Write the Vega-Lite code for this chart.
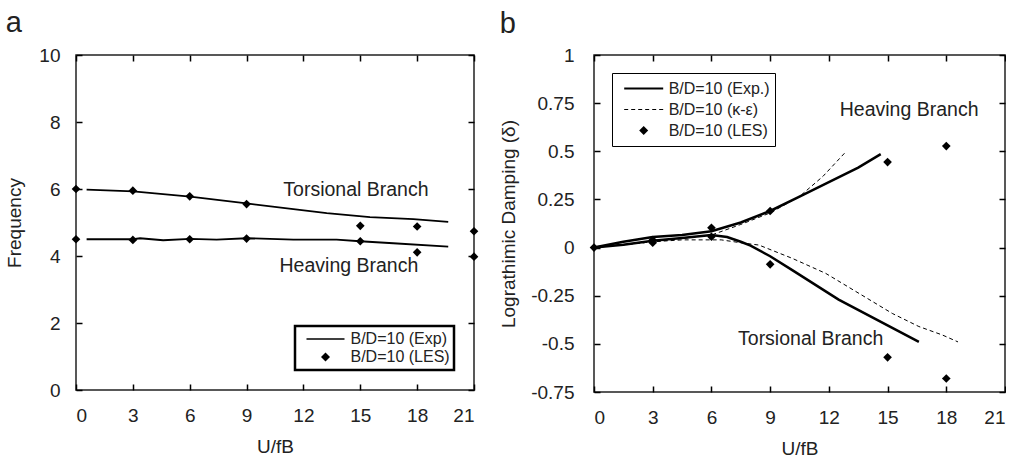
{
  "$schema": "https://vega.github.io/schema/vega-lite/v6.json",
  "padding": {"left": 5, "top": 8, "right": 0, "bottom": 0},
  "background": "white",
  "config": {
    "font": "Liberation Sans",
    "view": {"stroke": "#222", "strokeWidth": 1.5},
    "axis": {
      "domain": false, "ticks": false, "gridColor": "black", "gridWidth": 1.5, "gridOpacity": 1,
      "labelFont": "Liberation Sans", "labelFontSize": 19, "labelColor": "#222",
      "titleFont": "Liberation Sans", "titleFontSize": 19, "titleFontWeight": "normal", "titleColor": "#222"
    },
    "legend": {"padding": 5},
    "title": {"font": "Liberation Sans", "fontWeight": "normal", "color": "#222"},
    "text": {"font": "Liberation Sans"}
  },
  "datasets": {
    "lineA": [
      {"x": 0.56, "y": 5.98, "branch": "T", "series": "B/D=10 (Exp)"},
      {"x": 3.02, "y": 5.93, "branch": "T", "series": "B/D=10 (Exp)"},
      {"x": 6.02, "y": 5.77, "branch": "T", "series": "B/D=10 (Exp)"},
      {"x": 9.0, "y": 5.57, "branch": "T", "series": "B/D=10 (Exp)"},
      {"x": 11.47, "y": 5.4, "branch": "T", "series": "B/D=10 (Exp)"},
      {"x": 13.23, "y": 5.28, "branch": "T", "series": "B/D=10 (Exp)"},
      {"x": 15.51, "y": 5.16, "branch": "T", "series": "B/D=10 (Exp)"},
      {"x": 17.8, "y": 5.1, "branch": "T", "series": "B/D=10 (Exp)"},
      {"x": 19.64, "y": 5.02, "branch": "T", "series": "B/D=10 (Exp)"},
      {"x": 0.56, "y": 4.5, "branch": "H", "series": "B/D=10 (Exp)"},
      {"x": 3.02, "y": 4.5, "branch": "H", "series": "B/D=10 (Exp)"},
      {"x": 3.38, "y": 4.53, "branch": "H", "series": "B/D=10 (Exp)"},
      {"x": 4.6, "y": 4.47, "branch": "H", "series": "B/D=10 (Exp)"},
      {"x": 6.02, "y": 4.51, "branch": "H", "series": "B/D=10 (Exp)"},
      {"x": 7.42, "y": 4.49, "branch": "H", "series": "B/D=10 (Exp)"},
      {"x": 9.0, "y": 4.53, "branch": "H", "series": "B/D=10 (Exp)"},
      {"x": 11.47, "y": 4.49, "branch": "H", "series": "B/D=10 (Exp)"},
      {"x": 13.75, "y": 4.49, "branch": "H", "series": "B/D=10 (Exp)"},
      {"x": 14.98, "y": 4.44, "branch": "H", "series": "B/D=10 (Exp)"},
      {"x": 16.74, "y": 4.38, "branch": "H", "series": "B/D=10 (Exp)"},
      {"x": 19.64, "y": 4.28, "branch": "H", "series": "B/D=10 (Exp)"}
    ],
    "ptsA": [
      {"x": 0, "y": 6.0, "series": "B/D=10 (LES)"},
      {"x": 3, "y": 5.95, "series": "B/D=10 (LES)"},
      {"x": 6, "y": 5.78, "series": "B/D=10 (LES)"},
      {"x": 9, "y": 5.55, "series": "B/D=10 (LES)"},
      {"x": 15, "y": 4.9, "series": "B/D=10 (LES)"},
      {"x": 18, "y": 4.88, "series": "B/D=10 (LES)"},
      {"x": 21, "y": 4.74, "series": "B/D=10 (LES)"},
      {"x": 0, "y": 4.5, "series": "B/D=10 (LES)"},
      {"x": 3, "y": 4.48, "series": "B/D=10 (LES)"},
      {"x": 6, "y": 4.5, "series": "B/D=10 (LES)"},
      {"x": 9, "y": 4.52, "series": "B/D=10 (LES)"},
      {"x": 15, "y": 4.44, "series": "B/D=10 (LES)"},
      {"x": 18, "y": 4.11, "series": "B/D=10 (LES)"},
      {"x": 21, "y": 3.98, "series": "B/D=10 (LES)"}
    ],
    "textA": [
      {"x": 14.77, "y": 5.97, "label": "Torsional Branch"},
      {"x": 14.4, "y": 3.71, "label": "Heaving Branch"}
    ],
    "expB": [
      {"x": 0, "y": 0, "branch": "H", "series": "B/D=10 (Exp.)"},
      {"x": 1.5, "y": 0.03, "branch": "H", "series": "B/D=10 (Exp.)"},
      {"x": 3, "y": 0.055, "branch": "H", "series": "B/D=10 (Exp.)"},
      {"x": 4.5, "y": 0.065, "branch": "H", "series": "B/D=10 (Exp.)"},
      {"x": 6, "y": 0.085, "branch": "H", "series": "B/D=10 (Exp.)"},
      {"x": 7.5, "y": 0.13, "branch": "H", "series": "B/D=10 (Exp.)"},
      {"x": 9, "y": 0.19, "branch": "H", "series": "B/D=10 (Exp.)"},
      {"x": 10.5, "y": 0.265, "branch": "H", "series": "B/D=10 (Exp.)"},
      {"x": 12, "y": 0.34, "branch": "H", "series": "B/D=10 (Exp.)"},
      {"x": 13.5, "y": 0.415, "branch": "H", "series": "B/D=10 (Exp.)"},
      {"x": 14.65, "y": 0.485, "branch": "H", "series": "B/D=10 (Exp.)"},
      {"x": 0, "y": 0, "branch": "T", "series": "B/D=10 (Exp.)"},
      {"x": 1.5, "y": 0.015, "branch": "T", "series": "B/D=10 (Exp.)"},
      {"x": 3, "y": 0.035, "branch": "T", "series": "B/D=10 (Exp.)"},
      {"x": 4.5, "y": 0.05, "branch": "T", "series": "B/D=10 (Exp.)"},
      {"x": 6, "y": 0.065, "branch": "T", "series": "B/D=10 (Exp.)"},
      {"x": 6.8, "y": 0.055, "branch": "T", "series": "B/D=10 (Exp.)"},
      {"x": 7.5, "y": 0.03, "branch": "T", "series": "B/D=10 (Exp.)"},
      {"x": 8, "y": 0.01, "branch": "T", "series": "B/D=10 (Exp.)"},
      {"x": 9, "y": -0.045, "branch": "T", "series": "B/D=10 (Exp.)"},
      {"x": 10.13, "y": -0.117, "branch": "T", "series": "B/D=10 (Exp.)"},
      {"x": 12.5, "y": -0.27, "branch": "T", "series": "B/D=10 (Exp.)"},
      {"x": 16.6, "y": -0.49, "branch": "T", "series": "B/D=10 (Exp.)"}
    ],
    "keB": [
      {"x": 0, "y": 0, "branch": "H", "series": "B/D=10 (κ-ε)"},
      {"x": 3, "y": 0.03, "branch": "H", "series": "B/D=10 (κ-ε)"},
      {"x": 6, "y": 0.065, "branch": "H", "series": "B/D=10 (κ-ε)"},
      {"x": 7.5, "y": 0.12, "branch": "H", "series": "B/D=10 (κ-ε)"},
      {"x": 9, "y": 0.18, "branch": "H", "series": "B/D=10 (κ-ε)"},
      {"x": 10.5, "y": 0.265, "branch": "H", "series": "B/D=10 (κ-ε)"},
      {"x": 11.7, "y": 0.37, "branch": "H", "series": "B/D=10 (κ-ε)"},
      {"x": 12.8, "y": 0.49, "branch": "H", "series": "B/D=10 (κ-ε)"},
      {"x": 0, "y": 0, "branch": "T", "series": "B/D=10 (κ-ε)"},
      {"x": 3, "y": 0.03, "branch": "T", "series": "B/D=10 (κ-ε)"},
      {"x": 4.5, "y": 0.04, "branch": "T", "series": "B/D=10 (κ-ε)"},
      {"x": 6.5, "y": 0.04, "branch": "T", "series": "B/D=10 (κ-ε)"},
      {"x": 7.5, "y": 0.025, "branch": "T", "series": "B/D=10 (κ-ε)"},
      {"x": 8.43, "y": 0.013, "branch": "T", "series": "B/D=10 (κ-ε)"},
      {"x": 10.13, "y": -0.056, "branch": "T", "series": "B/D=10 (κ-ε)"},
      {"x": 11.84, "y": -0.134, "branch": "T", "series": "B/D=10 (κ-ε)"},
      {"x": 13.54, "y": -0.238, "branch": "T", "series": "B/D=10 (κ-ε)"},
      {"x": 15.24, "y": -0.342, "branch": "T", "series": "B/D=10 (κ-ε)"},
      {"x": 16.6, "y": -0.41, "branch": "T", "series": "B/D=10 (κ-ε)"},
      {"x": 17.8, "y": -0.454, "branch": "T", "series": "B/D=10 (κ-ε)"},
      {"x": 18.6, "y": -0.49, "branch": "T", "series": "B/D=10 (κ-ε)"}
    ],
    "ptsB": [
      {"x": 0, "y": 0, "series": "B/D=10 (LES)"},
      {"x": 3, "y": 0.039, "series": "B/D=10 (LES)"},
      {"x": 6, "y": 0.103, "series": "B/D=10 (LES)"},
      {"x": 9, "y": 0.19, "series": "B/D=10 (LES)"},
      {"x": 15, "y": 0.444, "series": "B/D=10 (LES)"},
      {"x": 18, "y": 0.527, "series": "B/D=10 (LES)"},
      {"x": 3, "y": 0.025, "series": "B/D=10 (LES)"},
      {"x": 6, "y": 0.056, "series": "B/D=10 (LES)"},
      {"x": 9, "y": -0.087, "series": "B/D=10 (LES)"},
      {"x": 15, "y": -0.57, "series": "B/D=10 (LES)"},
      {"x": 18, "y": -0.68, "series": "B/D=10 (LES)"}
    ],
    "textB": [
      {"x": 16.1, "y": 0.714, "label": "Heaving Branch"},
      {"x": 11.07, "y": -0.475, "label": "Torsional Branch"}
    ]
  },
  "spacing": 18,
  "resolve": {"scale": {"color": "independent", "x": "independent", "y": "independent"}, "legend": {"color": "independent"}},
  "hconcat": [
    {
      "width": 398,
      "height": 335,
      "title": {"text": "a", "anchor": "start", "frame": "bounds", "fontSize": 29, "baseline": "alphabetic", "offset": -15},
      "resolve": {"axis": {"x": "independent", "y": "independent"}},
      "layer": [
        {
          "data": {"name": "lineA"},
          "mark": {"type": "line", "strokeWidth": 1.8},
          "encoding": {
            "x": {"field": "x", "type": "quantitative", "scale": {"domain": [0, 21], "nice": false},
                  "axis": {"values": [0, 3, 6, 9, 12, 15, 18, 21], "title": "U/fB", "labelPadding": 16, "titlePadding": 12, "grid": true, "gridDash": [6, 323, 6, 1000]}},
            "y": {"field": "y", "type": "quantitative", "scale": {"domain": [0, 10], "nice": false},
                  "axis": {"values": [0, 2, 4, 6, 8, 10], "title": "Frequency", "labelPadding": 16, "titlePadding": 14, "grid": true, "gridDash": [6, 386, 6, 1000]}},
            "detail": {"field": "branch"},
            "color": {"field": "series", "type": "nominal",
              "scale": {"domain": ["B/D=10 (Exp)", "B/D=10 (LES)"], "range": ["black", "black"]},
              "legend": {
                "title": null, "orient": "bottom-right", "offset": 20, "padding": 4,
                "labelFont": "Liberation Sans", "labelFontSize": 16, "labelColor": "#222",
                "symbolSize": 100, "symbolOffset": 18.5, "labelOffset": 17, "symbolStrokeWidth": 1.5, "clipHeight": 18, "rowPadding": 0,
                "strokeColor": "black", "fillColor": "white",
                "encode": {
                  "legend": {"update": {"strokeWidth": {"value": 2.5}}},
                  "symbols": {"update": {
                    "shape": {"signal": "datum.value === 'B/D=10 (LES)' ? 'M0,-0.9L0.9,0L0,0.9L-0.9,0Z' : 'M-3.8,0H3.8'"},
                    "size": {"value": 100},
                    "fill": {"signal": "datum.value === 'B/D=10 (LES)' ? 'black' : 'transparent'"},
                    "stroke": {"value": "black"},
                    "strokeWidth": {"signal": "datum.value === 'B/D=10 (LES)' ? 0 : 1.5"},
                    "opacity": {"value": 1}
                  }}
                }
              }}
          }
        },
        {
          "data": {"name": "ptsA"},
          "mark": {"type": "point", "shape": "diamond", "filled": true, "size": 75, "opacity": 1},
          "encoding": {
            "x": {"field": "x", "type": "quantitative", "axis": {"orient": "top", "values": [0, 3, 6, 9, 12, 15, 18, 21], "labels": false, "title": null, "grid": false}},
            "y": {"field": "y", "type": "quantitative", "axis": {"orient": "right", "values": [0, 2, 4, 6, 8, 10], "labels": false, "title": null, "grid": false}},
            "color": {"field": "series", "type": "nominal"}
          }
        },
        {
          "data": {"name": "textA"},
          "mark": {"type": "text", "fontSize": 19.5, "align": "center", "baseline": "middle", "color": "#222"},
          "encoding": {
            "x": {"field": "x", "type": "quantitative", "axis": null},
            "y": {"field": "y", "type": "quantitative", "axis": null},
            "text": {"field": "label"}
          }
        }
      ]
    },
    {
      "width": 411,
      "height": 337,
      "title": {"text": "b", "anchor": "start", "frame": "bounds", "fontSize": 29, "baseline": "alphabetic", "offset": -16},
      "resolve": {"axis": {"x": "independent", "y": "independent"}},
      "layer": [
        {
          "data": {"name": "expB"},
          "mark": {"type": "line", "strokeWidth": 2.5},
          "encoding": {
            "x": {"field": "x", "type": "quantitative", "scale": {"domain": [0, 21], "nice": false},
                  "axis": {"values": [0, 3, 6, 9, 12, 15, 18, 21], "title": "U/fB", "labelPadding": 16, "titlePadding": 12, "grid": true, "gridDash": [6, 325, 6, 1000]}},
            "y": {"field": "y", "type": "quantitative", "scale": {"domain": [-0.75, 1], "nice": false, "zero": false},
                  "axis": {"values": [-0.75, -0.5, -0.25, 0, 0.25, 0.5, 0.75, 1], "labelExpr": "toString(datum.value)", "title": "Lograthimic Damping (δ)", "labelPadding": 20, "titlePadding": 12, "grid": true, "gridDash": [6, 399, 6, 1000]}},
            "detail": {"field": "branch"},
            "color": {"field": "series", "type": "nominal",
              "scale": {"domain": ["B/D=10 (Exp.)", "B/D=10 (κ-ε)", "B/D=10 (LES)"], "range": ["black", "black", "black"]},
              "legend": {
                "title": null, "orient": "top-left", "offset": 18, "padding": 5,
                "labelFont": "Liberation Sans", "labelFontSize": 16, "labelColor": "#222",
                "symbolSize": 100, "symbolOffset": 18.7, "labelOffset": 17, "symbolStrokeWidth": 2, "clipHeight": 21, "rowPadding": 0,
                "strokeColor": "black", "fillColor": "white",
                "encode": {
                  "legend": {"update": {"strokeWidth": {"value": 1}}},
                  "symbols": {"update": {
                    "shape": {"signal": "datum.value === 'B/D=10 (LES)' ? 'M0,-0.9L0.9,0L0,0.9L-0.9,0Z' : 'M-3.9,0H3.9'"},
                    "size": {"value": 100},
                    "fill": {"signal": "datum.value === 'B/D=10 (LES)' ? 'black' : 'transparent'"},
                    "stroke": {"value": "black"},
                    "strokeDash": {"signal": "datum.value === 'B/D=10 (κ-ε)' ? [4, 3] : [1, 0]"},
                    "strokeWidth": {"signal": "datum.value === 'B/D=10 (LES)' ? 0 : (datum.value === 'B/D=10 (κ-ε)' ? 1 : 2)"},
                    "opacity": {"value": 1}
                  }}
                }
              }}
          }
        },
        {
          "data": {"name": "keB"},
          "mark": {"type": "line", "strokeWidth": 1, "strokeDash": [4, 3]},
          "encoding": {
            "x": {"field": "x", "type": "quantitative", "axis": {"orient": "top", "values": [0, 3, 6, 9, 12, 15, 18, 21], "labels": false, "title": null, "grid": false}},
            "y": {"field": "y", "type": "quantitative", "axis": {"orient": "right", "values": [-0.75, -0.5, -0.25, 0, 0.25, 0.5, 0.75, 1], "labels": false, "title": null, "grid": false}},
            "detail": {"field": "branch"},
            "color": {"field": "series", "type": "nominal"}
          }
        },
        {
          "mark": {"type": "rule", "strokeWidth": 1, "color": "black"},
          "encoding": {"y": {"datum": 0, "type": "quantitative", "axis": null}}
        },
        {
          "data": {"name": "ptsB"},
          "mark": {"type": "point", "shape": "diamond", "filled": true, "size": 75, "opacity": 1},
          "encoding": {
            "x": {"field": "x", "type": "quantitative", "axis": null},
            "y": {"field": "y", "type": "quantitative", "axis": null},
            "color": {"field": "series", "type": "nominal"}
          }
        },
        {
          "data": {"name": "textB"},
          "mark": {"type": "text", "fontSize": 19.5, "align": "center", "baseline": "middle", "color": "#222"},
          "encoding": {
            "x": {"field": "x", "type": "quantitative", "axis": null},
            "y": {"field": "y", "type": "quantitative", "axis": null},
            "text": {"field": "label"}
          }
        }
      ]
    }
  ]
}
